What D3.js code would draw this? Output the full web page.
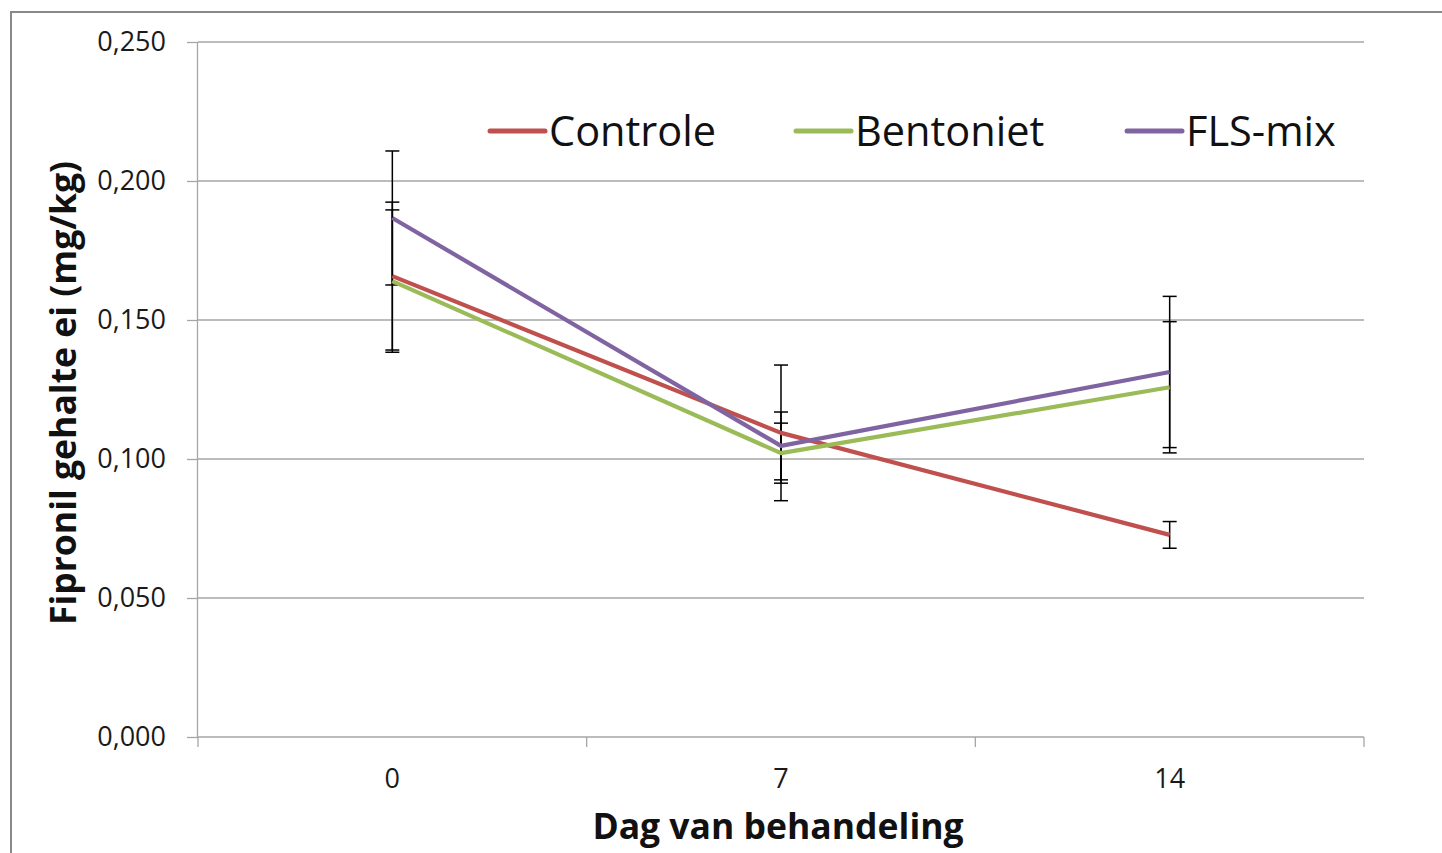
<!DOCTYPE html>
<html><head><meta charset="utf-8">
<script src="https://cdn.jsdelivr.net/npm/d3@7"></script>
<style>body{margin:0;background:#fff;}svg{display:block;font-family:"Open Sans",sans-serif;}</style>
</head><body>
<svg id="c" width="1442" height="853"></svg>
<script>
const days = ["0", "7", "14"];
const seriesNames = ["Controle", "Bentoniet", "FLS-mix"];
const seriesColors = ["#C0504D", "#9BBB59", "#8064A2"];
const controle = [0.1658, 0.1094, 0.0727];
const bentoniet = [0.1640, 0.1021, 0.1258];
const flsmix = [0.1867, 0.1047, 0.1313];
const controleErr = [0.0266, 0.0244, 0.0048];
const bentonietErr = [0.0256, 0.0108, 0.0236];
const flsmixErr = [0.0241, 0.0122, 0.0272];
const yTicks = [0, 0.05, 0.10, 0.15, 0.20, 0.25];

const values = [controle, bentoniet, flsmix];
const errs = [controleErr, bentonietErr, flsmixErr];

const svg = d3.select("#c");
const L = 198, R = 1364, T = 42, B = 737;
const x = d3.scaleBand().domain(days).range([L, R]).padding(0);
const y = d3.scaleLinear().domain([0, 0.25]).range([B, T]);

// outer border
svg.append("path").attr("d", `M11,870 L11,12 L1460,12`).attr("fill", "none")
  .attr("stroke", "#898989").attr("stroke-width", 2);

// gridlines
svg.append("g").selectAll("line").data(yTicks.filter(d => d > 0)).join("line")
  .attr("x1", L).attr("x2", R).attr("y1", d => y(d)).attr("y2", d => y(d))
  .attr("stroke", "#a6a6a6").attr("stroke-width", 1.3);

// y axis
const fmt = d => d3.format(".3f")(d).replace(".", ",");
const ya = svg.append("g").attr("transform", `translate(${L},0)`)
  .call(d3.axisLeft(y).tickValues(yTicks).tickFormat(fmt).tickSize(11).tickPadding(21));
ya.select(".domain").attr("stroke", "#a6a6a6").attr("stroke-width", 1.3).attr("d", `M-0.5,${T}V${B}`);
ya.selectAll(".tick line").attr("stroke", "#a6a6a6").attr("stroke-width", 1.3);
ya.selectAll(".tick text").attr("font-size", 27).attr("fill", "#1a1a1a").attr("font-family", "Open Sans");

// x axis
const xa = svg.append("g").attr("transform", `translate(0,${B})`)
  .call(d3.axisBottom(x).tickSize(0).tickPadding(32));
xa.select(".domain").attr("stroke", "#a6a6a6").attr("stroke-width", 1.3).attr("d", `M${L},0H${R}`);
xa.selectAll(".tick text").attr("font-size", 27).attr("fill", "#1a1a1a").attr("font-family", "Open Sans");
const bounds = days.map(d => x(d)).concat([x(days[days.length - 1]) + x.bandwidth()]);
svg.append("g").selectAll("line").data(bounds).join("line")
  .attr("x1", d => d).attr("x2", d => d).attr("y1", B).attr("y2", B + 10)
  .attr("stroke", "#a6a6a6").attr("stroke-width", 1.3);

const cx = d => x(d) + x.bandwidth() / 2;

// error bars
const eg = svg.append("g");
values.forEach((vals, si) => {
  vals.forEach((v, i) => {
    const e = errs[si][i], px = cx(days[i]);
    eg.append("line").attr("x1", px).attr("x2", px).attr("y1", y(v + e)).attr("y2", y(v - e))
      .attr("stroke", "#000").attr("stroke-width", 1.5);
    [v + e, v - e].forEach(w => {
      eg.append("line").attr("x1", px - 7).attr("x2", px + 7).attr("y1", y(w)).attr("y2", y(w))
        .attr("stroke", "#000").attr("stroke-width", 1.5);
    });
  });
});

// lines
const line = d3.line().x((d, i) => cx(days[i])).y(d => y(d));
values.forEach((vals, si) => {
  svg.append("path").datum(vals).attr("d", line).attr("fill", "none")
    .attr("stroke", seriesColors[si]).attr("stroke-width", 4.2).attr("stroke-linejoin", "round");
});

// legend
const legX = [490, 796, 1127];
const lg = svg.append("g");
seriesNames.forEach((n, i) => {
  lg.append("line").attr("x1", legX[i]).attr("x2", legX[i] + 55).attr("y1", 131).attr("y2", 131)
    .attr("stroke", seriesColors[i]).attr("stroke-width", 5).attr("stroke-linecap", "round");
  lg.append("text").attr("x", legX[i] + 59).attr("y", 146).attr("font-size", 41.5)
    .attr("fill", "#111").text(n);
});

// axis titles
svg.append("text").attr("x", 778).attr("y", 839).attr("text-anchor", "middle")
  .attr("font-size", 35.5).attr("font-weight", "bold").attr("fill", "#111").text("Dag van behandeling");
svg.append("text").attr("transform", "translate(76,393) rotate(-90)").attr("text-anchor", "middle")
  .attr("font-size", 35.5).attr("font-weight", "bold").attr("fill", "#111").text("Fipronil gehalte ei (mg/kg)");
</script>
</body></html>
